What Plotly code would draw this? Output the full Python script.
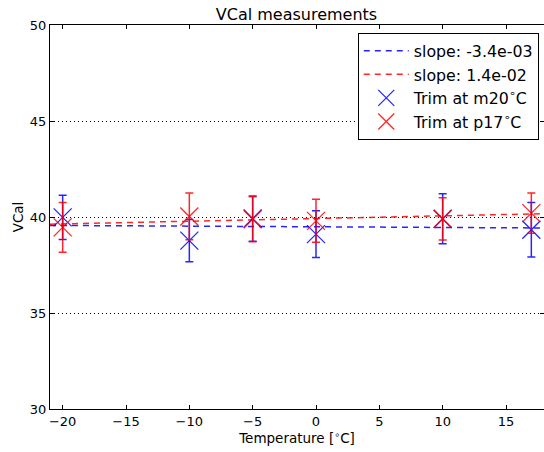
import plotly.graph_objects as go

temps = [-20, -10, -5, 0, 10, 17]

m20_vals = [39.98, 38.77, 39.92, 39.11, 39.91, 39.34]
m20_errs = [1.15, 1.10, 1.18, 1.22, 1.30, 1.42]

p17_vals = [39.46, 40.03, 39.88, 39.80, 39.90, 40.20]
p17_errs = [1.30, 1.22, 1.17, 1.12, 1.10, 1.05]

fit_slopes = [-3.4e-3, 1.4e-2]
fit_intercepts = [39.49, 39.92]
fit_labels = ["slope: -3.4e-03", "slope: 1.4e-02"]
series_labels = ["Trim at m20<sup>∘</sup>C", "Trim at p17<sup>∘</sup>C"]

x_range = [-21, 18]
y_ticks = [30, 35, 40, 45, 50]
x_ticks = [-20, -15, -10, -5, 0, 5, 10, 15]

colors = ["rgba(0,0,255,0.85)", "rgba(255,0,0,0.85)"]

fig = go.Figure()

for s, b, lab, c in zip(fit_slopes, fit_intercepts, fit_labels, colors):
    xs = list(x_range)
    ys = [b + s * x for x in xs]
    fig.add_trace(go.Scatter(x=xs, y=ys, mode="lines", name=lab,
                             line=dict(color=c, width=1.5, dash="6px,5px")))

for vals, errs, lab, c in zip([m20_vals, p17_vals], [m20_errs, p17_errs], series_labels, colors):
    fig.add_trace(go.Scatter(
        x=temps, y=vals, mode="markers", name=lab,
        marker=dict(symbol="x-thin-open", size=18, color=c, line=dict(width=1.3, color=c)),
        error_y=dict(type="data", array=errs, visible=True, color=c, thickness=1.5, width=4),
    ))

font = "DejaVu Sans, sans-serif"
fig.update_layout(
    width=544, height=452,
    margin=dict(l=50, r=0, t=25, b=43),
    paper_bgcolor="white", plot_bgcolor="white",
    font=dict(family=font, size=13, color="black"),
    title=dict(text="VCal measurements", x=0.545, xanchor="center", y=0.968, yanchor="middle",
               font=dict(size=16, family=font)),
    showlegend=True,
    legend=dict(x=0.623, y=0.979, xanchor="left", yanchor="top",
                bgcolor="white", bordercolor="black", borderwidth=1,
                font=dict(size=15.8, family=font), itemwidth=45, tracegroupgap=0),
    xaxis=dict(range=x_range, tickvals=x_ticks, ticks="inside", ticklen=4,
               tickcolor="black", showline=True, linecolor="black", linewidth=1,
               mirror="allticks", showgrid=False, zeroline=False,
               title=dict(text="Temperature [<sup>∘</sup>C]", standoff=4, font=dict(size=13.5))),
    yaxis=dict(range=[30, 50], tickvals=y_ticks, ticks="inside", ticklen=4,
               tickcolor="black", showline=True, linecolor="black", linewidth=1,
               mirror="allticks", showgrid=True, gridcolor="black", gridwidth=1,
               griddash="1px,3px", zeroline=False,
               title=dict(text="VCal", standoff=3, font=dict(size=13.5))),
)

fig.write_html("out.html")
